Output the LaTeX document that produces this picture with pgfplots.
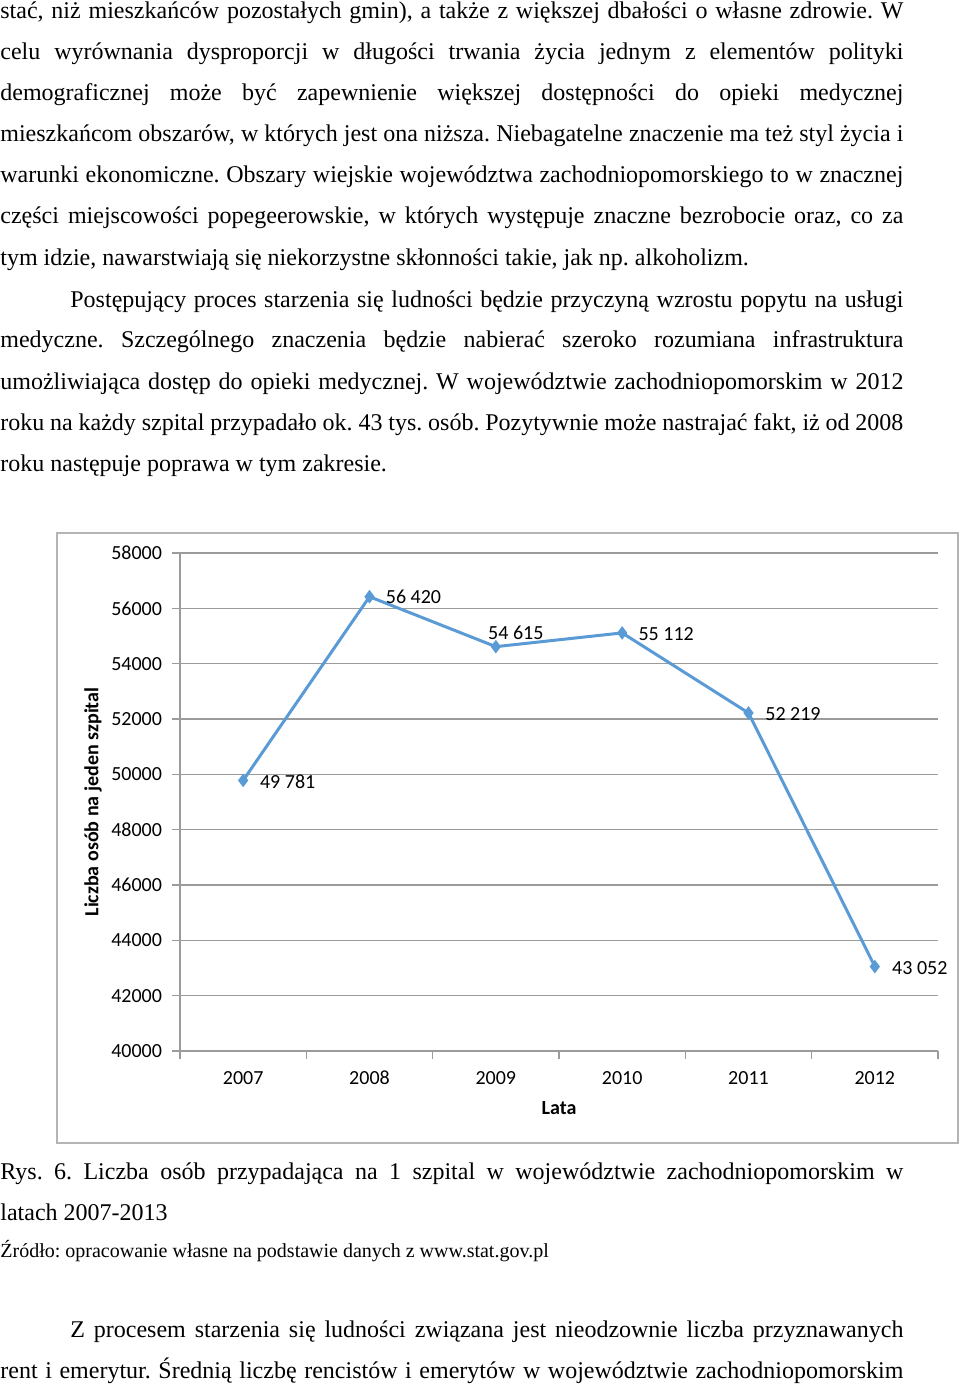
\documentclass[border=0pt]{standalone}
\usepackage{fontspec}
\setmainfont{Liberation Serif}
\newfontfamily\calibri{Carlito}
\usepackage{pgfplots}
\usepackage{pgfplotstable}
\pgfplotsset{compat=1.18}
\frenchspacing

\definecolor{linec}{RGB}{91,155,213}
\definecolor{gridc}{RGB}{155,155,155}
\definecolor{framec}{RGB}{180,180,180}

\pgfplotstableread{
x y dx dy
0 49781 22.25 -0.6
1 56420 22 -0.3
2 54615 10 6.8
3 55112 22 -0.6
4 52219 22.25 -0.6
5 43052 22.5 -0.6
}\spital

\newcommand\jl[2]{\node[txt] at (0pt,-#1pt) {\makebox[451.5pt][s]{#2}};}
\newcommand\il[2]{\node[txt] at (35pt,-#1pt) {\makebox[416.5pt][s]{#2}};}
\newcommand\nl[2]{\node[txt] at (0pt,-#1pt) {#2};}

\begin{document}
\begin{tikzpicture}[txt/.style={anchor=base west, inner sep=0pt, font=\fontsize{12}{14}\selectfont}]
\useasboundingbox (0pt,0pt) rectangle (480pt,-692.5pt);

% text above the chart
\jl{9.5}{stać, niż mieszkańców pozostałych gmin), a także z większej dbałości o własne zdrowie. W}
\jl{30}{celu wyrównania dysproporcji w długości trwania życia jednym z elementów polityki}
\jl{50.5}{demograficznej może być zapewnienie większej dostępności do opieki medycznej}
\jl{71}{mieszkańcom obszarów, w których jest ona niższa. Niebagatelne znaczenie ma też styl życia i}
\jl{91.5}{warunki ekonomiczne. Obszary wiejskie województwa zachodniopomorskiego to w znacznej}
\jl{112}{części miejscowości popegeerowskie, w których występuje znaczne bezrobocie oraz, co za}
\nl{133}{tym idzie, nawarstwiają się niekorzystne skłonności takie, jak np. alkoholizm.}
\il{153.5}{Postępujący proces starzenia się ludności będzie przyczyną wzrostu popytu na usługi}
\jl{174}{medyczne. Szczególnego znaczenia będzie nabierać szeroko rozumiana infrastruktura}
\jl{194.5}{umożliwiająca dostęp do opieki medycznej. W województwie zachodniopomorskim w 2012}
\jl{215}{roku na każdy szpital przypadało ok. 43 tys. osób. Pozytywnie może nastrajać fakt, iż od 2008}
\nl{235.5}{roku następuje poprawa w tym zakresie.}

% chart frame
\draw[framec, line width=0.8pt] (28.5pt,-266.5pt) rectangle (479pt,-571.5pt);

\begin{axis}[
  at={(90pt,-525.5pt)}, anchor=south west,
  scale only axis, width=379pt, height=249pt,
  font=\calibri\fontsize{10}{12}\selectfont,
  xmin=-0.5, xmax=5.5, ymin=40000, ymax=58000,
  xtick={0,...,5}, xticklabels={2007,2008,2009,2010,2011,2012},
  minor xtick={-0.5,0.5,...,5.5},
  ytick={40000,42000,...,58000},
  scaled y ticks=false,
  /pgf/number format/1000 sep={},
  /pgf/number format/assume math mode=true,
  axis x line*=bottom, axis y line*=left,
  axis line style={draw=gridc, line width=0.6pt},
  ymajorgrids, major grid style={draw=gridc, line width=0.6pt},
  tick align=outside, major tick length=4pt, minor tick length=4pt,
  major x tick style={draw=none},
  minor x tick style={draw=gridc, line width=0.6pt},
  major y tick style={draw=gridc, line width=0.6pt},
  yticklabel style={xshift=-1.5pt},
  xticklabel style={yshift=-2.5pt},
  xlabel={\bfseries Lata},
  ylabel={\bfseries Liczba osób na jeden szpital},
  every axis x label/.style={at={(axis description cs:0.5,0)}, anchor=center, yshift=-28.5pt},
  every axis y label/.style={at={(axis description cs:-0.1148,0.5)}, anchor=center, rotate=90},
  clip=false,
]
\addplot[linec, line width=1.5pt, mark=diamond*, mark size=3pt,
  mark options={solid, fill=linec, draw=linec, line width=0.5pt},
  point meta=y,
  visualization depends on={\thisrow{dx}\as\dx},
  visualization depends on={\thisrow{dy}\as\dy},
  nodes near coords={\pgfmathprintnumber[fixed,precision=0,1000 sep={\ }]{\pgfplotspointmeta}},
  nodes near coords style={anchor=center, xshift=\dx pt, yshift=\dy pt, text=black, font=\calibri\fontsize{10}{12}\selectfont}
] table[x=x, y=y] {\spital};
\end{axis}

% caption and following text
\jl{589.5}{Rys. 6. Liczba osób przypadająca na 1 szpital w województwie zachodniopomorskim w}
\nl{610}{latach 2007-2013}
\node[txt, font=\fontsize{10}{12}\selectfont] at (0pt,-628.5pt) {Źródło: opracowanie własne na podstawie danych z www.stat.gov.pl};
\il{668.5}{Z procesem starzenia się ludności związana jest nieodzownie liczba przyznawanych}
\jl{689}{rent i emerytur. Średnią liczbę rencistów i emerytów w województwie zachodniopomorskim}
\end{tikzpicture}
\end{document}
